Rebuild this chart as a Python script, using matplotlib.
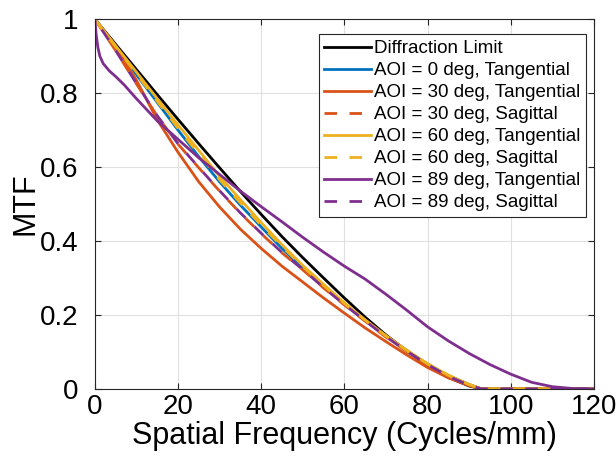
import numpy as np
import matplotlib
matplotlib.use("Agg")
import matplotlib.pyplot as plt

# spatial frequency (cycles/mm) and MTF values
freq = [0, 5, 10, 15, 20, 25, 30, 35, 40, 45, 50, 55, 60, 65, 70, 75, 80, 85, 90, 93, 100, 110, 120]

mtf_diffraction = [1.0, 0.932, 0.864, 0.796, 0.729, 0.663, 0.598, 0.534, 0.472, 0.412, 0.355, 0.300,
                   0.246, 0.194, 0.146, 0.103, 0.064, 0.031, 0.008, 0.0, 0.0, 0.0, 0.0]
mtf_0_tan = [1.0, 0.925, 0.850, 0.775, 0.700, 0.628, 0.560, 0.497, 0.438, 0.380, 0.327, 0.277,
             0.229, 0.185, 0.143, 0.104, 0.067, 0.036, 0.012, 0.0, 0.0, 0.0, 0.0]
mtf_30_tan = [1.0, 0.928, 0.835, 0.728, 0.640, 0.560, 0.492, 0.432, 0.380, 0.332, 0.289, 0.246,
              0.205, 0.165, 0.128, 0.092, 0.058, 0.030, 0.009, 0.0, 0.0, 0.0, 0.0]
mtf_30_sag = [1.0, 0.915, 0.825, 0.738, 0.662, 0.598, 0.535, 0.475, 0.420, 0.368, 0.322, 0.273,
              0.227, 0.183, 0.140, 0.101, 0.065, 0.033, 0.010, 0.0, 0.0, 0.0, 0.0]
mtf_60_tan = [1.0, 0.928, 0.857, 0.785, 0.714, 0.645, 0.575, 0.512, 0.450, 0.390, 0.334, 0.283,
              0.233, 0.187, 0.144, 0.105, 0.068, 0.037, 0.012, 0.0, 0.0, 0.0, 0.0]
mtf_60_sag = [1.0, 0.925, 0.852, 0.778, 0.705, 0.635, 0.566, 0.503, 0.443, 0.385, 0.331, 0.280,
              0.231, 0.186, 0.143, 0.104, 0.068, 0.037, 0.012, 0.0, 0.0, 0.0, 0.0]
mtf_89_sag = [1.0, 0.915, 0.826, 0.739, 0.663, 0.599, 0.536, 0.476, 0.421, 0.369, 0.323, 0.274,
              0.228, 0.184, 0.141, 0.102, 0.066, 0.034, 0.010, 0.0, 0.0, 0.0, 0.0]

# 89 deg tangential has its own sampling (sharp drop near zero)
freq_89 = [0, 0.3, 0.7, 1.2, 2, 3.5, 5, 7, 10, 15, 20, 25, 30, 35, 40, 45, 50, 55, 60, 65, 70,
           75, 80, 85, 90, 95, 100, 105, 110, 115, 120]
mtf_89_tan = [1.0, 0.96, 0.925, 0.90, 0.88, 0.86, 0.845, 0.823, 0.785, 0.725, 0.675, 0.625, 0.580,
              0.535, 0.493, 0.452, 0.410, 0.370, 0.332, 0.297, 0.256, 0.213, 0.168, 0.130, 0.096,
              0.066, 0.040, 0.018, 0.006, 0.001, 0.0]

labels = ["Diffraction Limit", "AOI = 0 deg, Tangential", "AOI = 30 deg, Tangential",
          "AOI = 30 deg, Sagittal", "AOI = 60 deg, Tangential", "AOI = 60 deg, Sagittal",
          "AOI = 89 deg, Tangential", "AOI = 89 deg, Sagittal"]

c_blue = (0, 0.447, 0.741)
c_orange = (0.85, 0.325, 0.098)
c_yellow = (0.929, 0.694, 0.125)
c_purple = (0.494, 0.184, 0.556)

plt.rcParams['font.family'] = ['Liberation Sans', 'DejaVu Sans']

fig = plt.figure(figsize=(6.16, 4.68), dpi=100)
ax = fig.add_axes([0.154, 0.169, 0.81, 0.79])

lw = 2.0
dash = (0, (4.5, 4.5))
dash_shift = (4.5, (4.5, 4.5))  # shifted so it alternates with the other dashed lines
ax.plot(freq, mtf_diffraction, color='black', lw=lw, label=labels[0])
ax.plot(freq, mtf_0_tan, color=c_blue, lw=lw, label=labels[1])
ax.plot(freq, mtf_30_tan, color=c_orange, lw=lw, label=labels[2])
ax.plot(freq, mtf_30_sag, color=c_orange, lw=lw, ls=dash, label=labels[3])
ax.plot(freq, mtf_60_tan, color=c_yellow, lw=lw, label=labels[4])
ax.plot(freq, mtf_60_sag, color=c_yellow, lw=lw, ls=dash, label=labels[5])
ax.plot(freq_89, mtf_89_tan, color=c_purple, lw=lw, label=labels[6])
ax.plot(freq, mtf_89_sag, color=c_purple, lw=lw, ls=dash_shift, label=labels[7])

ax.set_xlim(0, 120)
ax.set_ylim(0, 1)
ax.set_xticks([0, 20, 40, 60, 80, 100, 120])
ax.set_yticks([0, 0.2, 0.4, 0.6, 0.8, 1])
ax.set_yticklabels(['0', '0.2', '0.4', '0.6', '0.8', '1'])
ax.grid(True, color=(0.88, 0.88, 0.88), lw=0.8)
ax.set_axisbelow(True)
ax.tick_params(direction='in', top=True, right=True, length=4, labelsize=20,
               colors=(0.15, 0.15, 0.15), labelcolor='black')
ax.tick_params(axis='y', pad=12)
for s in ax.spines.values():
    s.set_color((0.15, 0.15, 0.15))
    s.set_linewidth(0.8)

ax.set_xlabel('Spatial Frequency (Cycles/mm)', fontsize=22, labelpad=1)
ax.set_ylabel('MTF', fontsize=22, labelpad=-1)

leg = ax.legend(loc='upper right', bbox_to_anchor=(0.984, 0.959), borderaxespad=0,
                fontsize=13.5, handlelength=2.5, handletextpad=0.15, labelspacing=0.26,
                borderpad=0.3, fancybox=False, framealpha=1)
leg.get_frame().set_edgecolor((0.15, 0.15, 0.15))
leg.get_frame().set_linewidth(0.8)
# legend sample for the shifted dashed line starts like the others
leg.get_lines()[7].set_linestyle(dash)

fig.savefig('out.png', dpi=100)
